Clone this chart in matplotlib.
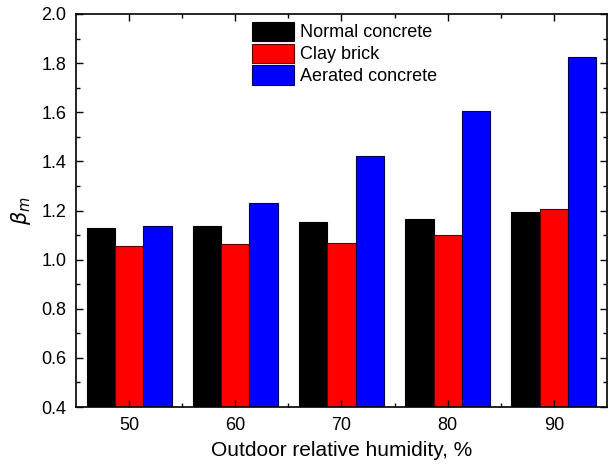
import numpy as np
import matplotlib.pyplot as plt
from matplotlib.ticker import MultipleLocator, FixedLocator

plt.rcParams['font.family'] = ['Liberation Sans', 'DejaVu Sans']
plt.rcParams['mathtext.fontset'] = 'dejavusans'

humidity = ['50', '60', '70', '80', '90']
normal_concrete = [1.128, 1.138, 1.152, 1.167, 1.193]
clay_brick = [1.057, 1.064, 1.069, 1.102, 1.205]
aerated_concrete = [1.138, 1.229, 1.422, 1.606, 1.824]

series = [
    ('Normal concrete', normal_concrete, 'black', 'black'),
    ('Clay brick', clay_brick, 'red', '#5a0000'),
    ('Aerated concrete', aerated_concrete, 'blue', '#000050'),
]

fig = plt.figure(figsize=(6.09, 4.65), dpi=100)
ax = fig.add_axes([0.1248, 0.1247, 0.8719, 0.8452])

x = np.arange(len(humidity))
w = 0.8 / 3
for i, (label, vals, fc, ec) in enumerate(series):
    ax.bar(x + (i - 1) * w, vals, width=w, color=fc, edgecolor=ec,
           linewidth=0.8, label=label)

ax.set_xlim(-0.5, len(humidity) - 0.5)
ax.set_ylim(0.4, 2.0)
ax.set_xticks(x)
ax.set_xticklabels(humidity)
ax.xaxis.set_minor_locator(FixedLocator(x[:-1] + 0.5))
ax.yaxis.set_major_locator(MultipleLocator(0.2))
ax.yaxis.set_minor_locator(MultipleLocator(0.1))
ax.yaxis.set_major_formatter(plt.FormatStrFormatter('%.1f'))

ax.tick_params(which='both', direction='in', top=True, right=True,
               labelsize=13, width=1.0)
ax.tick_params(which='major', length=5, pad=7)
ax.tick_params(which='minor', length=3)
for s in ax.spines.values():
    s.set_linewidth(1.2)

ax.set_xlabel('Outdoor relative humidity, %', fontsize=15, labelpad=5)
ax.set_ylabel(r'$\beta_m$', fontsize=15, labelpad=6)

ax.legend(loc='upper left', bbox_to_anchor=(0.3315, 0.98), frameon=False,
          fontsize=13, handlelength=2.33, handleheight=1.25,
          labelspacing=0.12, handletextpad=0.35, borderaxespad=0,
          borderpad=0)

fig.savefig('out.png', dpi=100)
